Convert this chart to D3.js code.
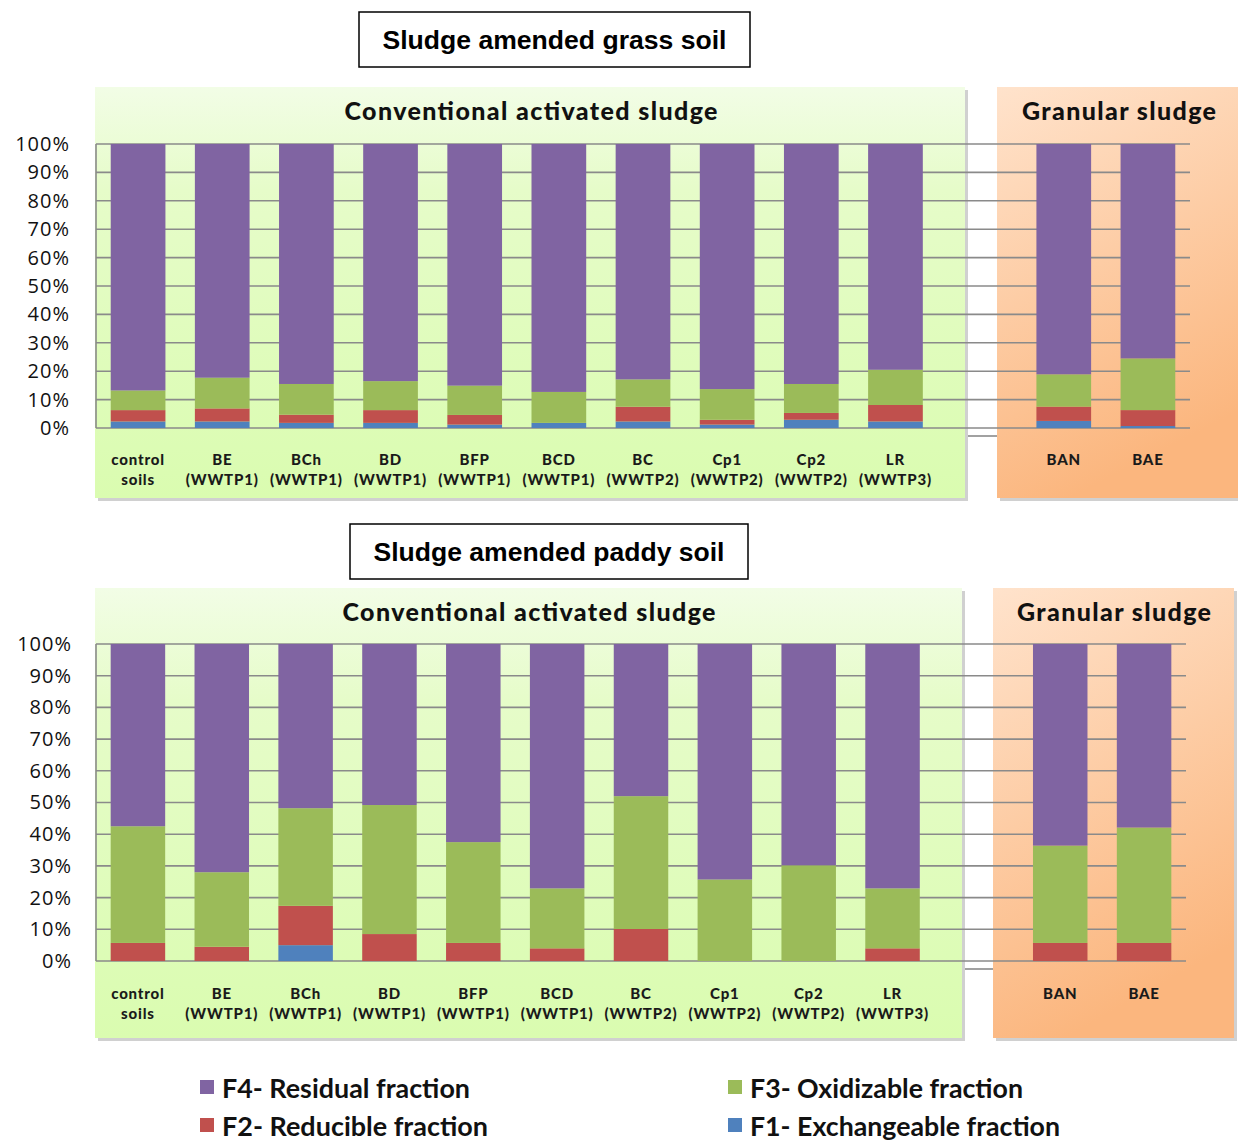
<!DOCTYPE html>
<html><head><meta charset="utf-8">
<script src="https://cdn.jsdelivr.net/npm/d3@7"></script>
<style>body{margin:0;background:#fff}svg{display:block}</style>
</head><body>
<svg id="chart" width="1238" height="1140"></svg>
<script>
// ---------- data ----------
const categories = ["control|soils","BE|(WWTP1)","BCh|(WWTP1)","BD|(WWTP1)","BFP|(WWTP1)","BCD|(WWTP1)","BC|(WWTP2)","Cp1|(WWTP2)","Cp2|(WWTP2)","LR|(WWTP3)","gap","BAN","BAE"];
const seriesKeys = ["F1","F2","F3","F4"];
const seriesNames = {F4:"F4- Residual fraction",F3:"F3- Oxidizable fraction",F2:"F2- Reducible fraction",F1:"F1- Exchangeable fraction"};
const seriesColors = {F1:"#4F81BD",F2:"#C0504D",F3:"#9BBB59",F4:"#8064A2"};
const yTicks = [0,10,20,30,40,50,60,70,80,90,100];

// grass soil (%), order follows categories (gap = 0)
const grassF1 = [2.3,2.3,1.8,1.8,1.2,1.8,2.3,1.2,2.9,2.3,0,2.5,0.7];
const grassF2 = [4.0,4.6,2.9,4.5,3.4,0.0,5.2,1.7,2.4,5.8,0,5.0,5.6];
const grassF3 = [6.9,10.8,10.8,10.2,10.3,10.9,9.6,10.8,10.2,12.4,0,11.4,18.2];
const grassF4 = [86.8,82.3,84.5,83.5,85.1,87.3,82.9,86.3,84.5,79.5,0,81.1,75.5];

// paddy soil (%)
const paddyF1 = [0,0,5.0,0,0,0,0,0,0,0,0,0,0];
const paddyF2 = [5.7,4.5,12.4,8.5,5.7,4.0,10.1,0,0,4.0,0,5.7,5.7];
const paddyF3 = [36.8,23.5,30.8,40.7,31.8,18.9,41.9,25.7,30.2,18.9,0,30.7,36.4];
const paddyF4 = [57.5,72.0,51.8,50.8,62.5,77.1,48.0,74.3,69.8,77.1,0,63.6,57.9];

// ---------- drawing ----------
const svg = d3.select("#chart");
const defs = svg.append("defs");
const gG = defs.append("linearGradient").attr("id","greenGrad").attr("x1",0).attr("y1",0).attr("x2",0).attr("y2",1);
gG.append("stop").attr("offset","0").attr("stop-color","#f2fde6");
gG.append("stop").attr("offset","0.25").attr("stop-color","#e6fcc9");
gG.append("stop").attr("offset","1").attr("stop-color","#dafcb0");
const oG = defs.append("linearGradient").attr("id","orangeGrad").attr("x1",0).attr("y1",0).attr("x2",0.3).attr("y2",1);
oG.append("stop").attr("offset","0").attr("stop-color","#ffe3cc");
oG.append("stop").attr("offset","1").attr("stop-color","#fbb67e");

const labelFont = "Lato, 'Open Sans', sans-serif";

function drawChart(cfg) {
  const g = svg.append("g");
  // title box
  g.append("rect").attr("x",cfg.titleBox[0]).attr("y",cfg.titleBox[1]).attr("width",cfg.titleBox[2]).attr("height",cfg.titleBox[3])
    .attr("fill","#fff").attr("stroke","#000").attr("stroke-width",1.5);
  g.append("text").attr("x",cfg.titleBox[0]+cfg.titleBox[2]/2).attr("y",cfg.titleBox[1]+cfg.titleBox[3]/2)
    .attr("text-anchor","middle").attr("dominant-baseline","central")
    .attr("font-family","'Liberation Sans', Arial, sans-serif").attr("font-weight","bold").attr("font-size",26)
    .attr("textLength",cfg.titleLen).attr("lengthAdjust","spacingAndGlyphs")
    .text(cfg.title);

  // panels with shadow
  [[cfg.greenPanel,"url(#greenGrad)"],[cfg.orangePanel,"url(#orangeGrad)"]].forEach(([p,fill])=>{
    g.append("rect").attr("x",p[0]+3).attr("y",p[1]+3).attr("width",p[2]).attr("height",p[3]).attr("fill","#d0d0d0");
    g.append("rect").attr("x",p[0]).attr("y",p[1]).attr("width",p[2]).attr("height",p[3]).attr("fill",fill);
  });
  g.append("text").attr("x",cfg.convTitleX).attr("y",cfg.greenPanel[1]+23)
    .attr("text-anchor","middle").attr("dominant-baseline","central")
    .attr("font-family",labelFont).attr("font-weight","900").attr("font-size",25).attr("fill","#111")
    .attr("textLength",373).attr("lengthAdjust","spacing")
    .text("Conventional activated sludge");
  g.append("text").attr("x",cfg.granTitleX).attr("y",cfg.orangePanel[1]+23)
    .attr("text-anchor","middle").attr("dominant-baseline","central")
    .attr("font-family",labelFont).attr("font-weight","900").attr("font-size",25).attr("fill","#111")
    .attr("textLength",194).attr("lengthAdjust","spacing")
    .text("Granular sludge");

  const x = d3.scaleBand().domain(categories).range(cfg.xRange).paddingInner(0.35).paddingOuter(0.175);
  const y = d3.scaleLinear().domain([0,100]).range(cfg.yRange);

  // gridlines
  g.append("g").selectAll("line").data(yTicks).join("line")
    .attr("x1",cfg.xRange[0]).attr("x2",cfg.xRange[1])
    .attr("y1",d=>y(d)).attr("y2",d=>y(d))
    .attr("stroke","#8a8a8a").attr("stroke-width",1.6);
  g.append("line").attr("x1",cfg.xRange[0]).attr("x2",cfg.xRange[0]).attr("y1",y(0)).attr("y2",y(100))
    .attr("stroke","#8a8a8a").attr("stroke-width",1.6);
  // stray axis fragment in gap between panels
  g.append("line").attr("x1",cfg.greenPanel[0]+cfg.greenPanel[2]+3).attr("x2",cfg.orangePanel[0])
    .attr("y1",y(0)+8).attr("y2",y(0)+8).attr("stroke","#8a8a8a").attr("stroke-width",1.6);

  // y tick labels
  const yAxis = d3.axisLeft(y).tickValues(yTicks).tickFormat(d=>d+"%").tickSize(0).tickPadding(0);
  const ax = g.append("g").attr("transform",`translate(${cfg.yLabelX},0)`).call(yAxis);
  ax.select(".domain").remove();
  ax.selectAll("text").attr("font-family","'Open Sans', sans-serif").attr("font-size",20)
    .attr("letter-spacing",1).attr("fill","#111");

  // stacked bars
  const rows = categories.map((c,i)=>({cat:c,F1:cfg.data.F1[i],F2:cfg.data.F2[i],F3:cfg.data.F3[i],F4:cfg.data.F4[i]}));
  const stacked = d3.stack().keys(seriesKeys)(rows);
  g.append("g").selectAll("g").data(stacked).join("g").attr("fill",s=>seriesColors[s.key])
    .selectAll("rect").data(s=>s.filter(d=>d.data.cat!=="gap" && d[1]-d[0]>0)).join("rect")
    .attr("x",d=>x(d.data.cat)).attr("width",x.bandwidth())
    .attr("y",d=>y(d[1])).attr("height",d=>y(d[0])-y(d[1]));

  // category labels
  const cl = g.append("g").selectAll("text").data(categories.filter(c=>c!=="gap")).join("text")
    .attr("x",c=>x(c)+x.bandwidth()/2).attr("y",cfg.catLabelY)
    .attr("text-anchor","middle").attr("font-family",labelFont).attr("font-weight","900")
    .attr("font-size",15).attr("letter-spacing",0.8).attr("fill","#1a1a1a");
  cl.each(function(c){
    const parts=c.split("|");
    const t=d3.select(this);
    parts.forEach((p,i)=>t.append("tspan").attr("x",x(c)+x.bandwidth()/2).attr("dy",i===0?0:20).text(p));
  });
}

drawChart({
  title:"Sludge amended grass soil", titleBox:[359,12,391,55], titleLen:344,
  greenPanel:[95,87,870,411], orangePanel:[997,87,241,411], convTitleX:531, granTitleX:1119,
  xRange:[96,1190], yRange:[428,144], yLabelX:70, catLabelY:465,
  data:{F1:grassF1,F2:grassF2,F3:grassF3,F4:grassF4}
});
drawChart({
  title:"Sludge amended paddy soil", titleBox:[350,524,398,55], titleLen:351,
  greenPanel:[95,588,867,450], orangePanel:[993,588,241,450], convTitleX:529, granTitleX:1114,
  xRange:[96,1186], yRange:[961,644], yLabelX:72, catLabelY:999,
  data:{F1:paddyF1,F2:paddyF2,F3:paddyF3,F4:paddyF4}
});

// legend
const legendItems = [
  {key:"F4",x:200,y:1087,len:248},{key:"F3",x:728,y:1087,len:273},
  {key:"F2",x:200,y:1125,len:266},{key:"F1",x:728,y:1125,len:310}
];
const lg = svg.append("g").selectAll("g").data(legendItems).join("g")
  .attr("transform",d=>`translate(${d.x},${d.y})`);
lg.append("rect").attr("x",0).attr("y",-7).attr("width",14).attr("height",14).attr("fill",d=>seriesColors[d.key]);
lg.append("text").attr("x",22).attr("y",0).attr("dominant-baseline","central")
  .attr("font-family",labelFont).attr("font-weight","bold").attr("font-size",27).attr("fill","#111")
  .attr("textLength",d=>d.len).attr("lengthAdjust","spacingAndGlyphs")
  .text(d=>seriesNames[d.key]);
</script>
</body></html>
